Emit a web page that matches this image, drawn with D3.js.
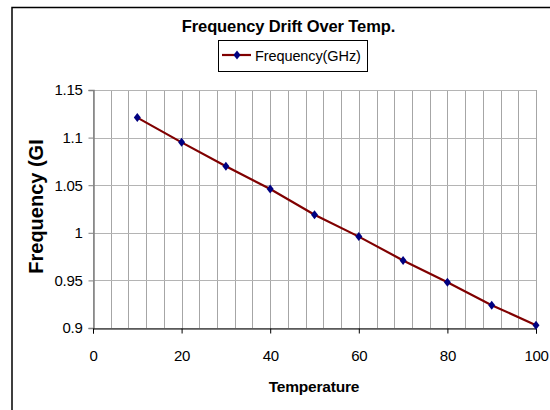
<!DOCTYPE html>
<html>
<head>
<meta charset="UTF-8">
<title>Frequency Drift Over Temp.</title>
<style>
body, html {
	padding: 0;
	margin: 0;
	overflow: hidden;
	background: #ffffff;
	font-family: 'Liberation Sans', Arial, sans-serif;
}
</style>
</head>
<body>
<div id="chart"></div>
<script src="https://cdn.jsdelivr.net/npm/d3@7"></script>
<script>
var temps = [10, 20, 30, 40, 50, 60, 70, 80, 90, 100];
var freqs = [1.121, 1.095, 1.070, 1.046, 1.019, 0.996, 0.971, 0.948, 0.924, 0.903];
var xTicks = [0, 20, 40, 60, 80, 100];
var yTicks = [0.9, 0.95, 1, 1.05, 1.1, 1.15];
var xGrid = d3.range(0, 101, 4);

var width = 550;
var height = 410;

var x = d3.scaleLinear().domain([0, 100]).range([93, 536]);
var y = d3.scaleLinear().domain([0.9, 1.15]).range([328, 90]);

var svg = d3.select("#chart").append("svg")
	.attr("width", width)
	.attr("height", height);

// outer chart frame, runs off the right and bottom
svg.append("rect")
	.attr("x", 12).attr("y", 7.5)
	.attr("width", 600).attr("height", 500)
	.attr("fill", "none")
	.attr("stroke", "#000")
	.attr("stroke-width", 1.5);

// grid
svg.append("g").selectAll("line").data(xGrid).enter().append("line")
	.attr("x1", function(d) {return Math.round(x(d)) + 0.5})
	.attr("x2", function(d) {return Math.round(x(d)) + 0.5})
	.attr("y1", y(1.15)).attr("y2", y(0.9))
	.attr("stroke", "#a6a6a6");

svg.append("g").selectAll("line").data(yTicks).enter().append("line")
	.attr("x1", x(0)).attr("x2", x(100))
	.attr("y1", function(d) {return Math.round(y(d)) + 0.5})
	.attr("y2", function(d) {return Math.round(y(d)) + 0.5})
	.attr("stroke", "#b4b4b4");

// axes
var yAxis = svg.append("g")
	.attr("transform", "translate(" + (x(0) + 0.5) + ",0)")
	.call(d3.axisLeft(y).tickValues(yTicks).tickSize(5).tickPadding(6).tickFormat(function(d) {return String(d)}));

var xAxis = svg.append("g")
	.attr("transform", "translate(0," + (Math.round(y(0.9)) + 0.5) + ")")
	.call(d3.axisBottom(x).tickValues(xTicks).tickSize(5).tickPadding(17).tickFormat(d3.format("d")));

yAxis.select(".domain").attr("stroke", "#808080").attr("stroke-width", 1.5);
yAxis.selectAll(".tick line").attr("stroke", "#808080");
xAxis.select(".domain").attr("stroke", "#000");
xAxis.selectAll(".tick line").attr("stroke", "#000");
svg.selectAll(".tick text")
	.attr("font-family", "'Liberation Sans', Arial, sans-serif")
	.attr("font-size", 15)
	.attr("letter-spacing", -0.3)
	.attr("fill", "#000");

// series
var line = d3.line()
	.x(function(d, i) {return x(temps[i])})
	.y(function(d) {return y(d)});

svg.append("path")
	.datum(freqs)
	.attr("d", line)
	.attr("fill", "none")
	.attr("stroke", "#800000")
	.attr("stroke-width", 2.2);

var diamond = "M0,-4.5L3.5,0L0,4.5L-3.5,0Z";

svg.append("g").selectAll("path").data(freqs).enter().append("path")
	.attr("d", diamond)
	.attr("transform", function(d, i) {return "translate(" + x(temps[i]) + "," + y(d) + ")"})
	.attr("fill", "#000080");

// title
svg.append("text")
	.attr("x", 288.5).attr("y", 32)
	.attr("text-anchor", "middle")
	.attr("font-size", 16.5)
	.attr("font-weight", "bold")
	.attr("letter-spacing", -0.1)
	.text("Frequency Drift Over Temp.");

// legend
var legend = svg.append("g");
legend.append("rect")
	.attr("x", 218.5).attr("y", 40.5)
	.attr("width", 149).attr("height", 31)
	.attr("fill", "#fff")
	.attr("stroke", "#000");
legend.append("line")
	.attr("x1", 222).attr("x2", 251)
	.attr("y1", 55).attr("y2", 55)
	.attr("stroke", "#800000")
	.attr("stroke-width", 2.2);
legend.append("path")
	.attr("d", diamond)
	.attr("transform", "translate(237,55)")
	.attr("fill", "#000080");
legend.append("text")
	.attr("x", 255).attr("y", 61)
	.attr("font-size", 14.5)
	.attr("letter-spacing", -0.1)
	.text("Frequency(GHz)");

// axis titles
svg.append("text")
	.attr("x", 314).attr("y", 392)
	.attr("text-anchor", "middle")
	.attr("font-size", 15.5)
	.attr("font-weight", "bold")
	.attr("letter-spacing", -0.2)
	.text("Temperature");

svg.append("text")
	.attr("transform", "translate(43,206.5) rotate(-90)")
	.attr("text-anchor", "middle")
	.attr("font-size", 20)
	.attr("font-weight", "bold")
	.text("Frequency (GI");
</script>
</body>
</html>
